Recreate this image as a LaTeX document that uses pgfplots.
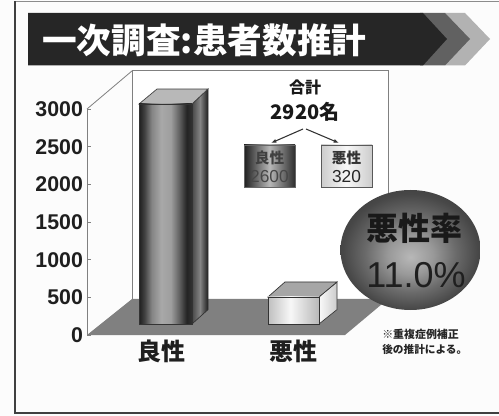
\documentclass[border=0pt]{standalone}
\usepackage{pgfplots}
\pgfplotsset{compat=1.18}
\usepackage{fontspec}
\setmainfont{Liberation Sans}
\newfontfamily\jp{Noto Sans CJK JP}
\usetikzlibrary{arrows.meta}

% cylinder-like and box-like shadings of the bars (a shaded path spans 25bp to 75bp)
\pgfdeclarehorizontalshading{barfront}{100bp}{
  color(0bp)=(black!88); color(25bp)=(black!88); color(30bp)=(black!75); color(37bp)=(black!48);
  color(46bp)=(black!34); color(55bp)=(black!38); color(63bp)=(black!62); color(70bp)=(black!86); color(75bp)=(black!80); color(100bp)=(black!80)}
\pgfdeclarehorizontalshading{barside}{100bp}{
  color(0bp)=(black!72); color(25bp)=(black!72); color(50bp)=(black!48); color(75bp)=(black!88); color(100bp)=(black!88)}
\pgfdeclarehorizontalshading{boxfront}{100bp}{
  color(0bp)=(black!25); color(25bp)=(black!25); color(47bp)=(black!3); color(75bp)=(black!28); color(100bp)=(black!28)}
\pgfdeclarehorizontalshading{boxside}{100bp}{
  color(0bp)=(black!2); color(25bp)=(black!2); color(75bp)=(black!20); color(100bp)=(black!20)}
\pgfdeclarehorizontalshading{keydark}{100bp}{
  color(0bp)=(black!88); color(25bp)=(black!88); color(50bp)=(black!28); color(75bp)=(black!82); color(100bp)=(black!82)}
\pgfdeclarehorizontalshading{keylight}{100bp}{
  color(0bp)=(black!20); color(25bp)=(black!20); color(50bp)=(black!3); color(75bp)=(black!20); color(100bp)=(black!20)}
\pgfdeclareradialshading{ball}{\pgfpoint{0bp}{-3bp}}{
  color(0bp)=(black!28); color(8bp)=(black!40); color(16bp)=(black!58); color(24bp)=(black!72); color(32bp)=(black!78)}

\begin{document}
\begin{tikzpicture}[x=0.75pt,y=-0.75pt]
\useasboundingbox (0,0) rectangle (499,416);
\fill[black!1] (0,0) rectangle (499,416);

% page frame, open on the right
\draw[black!45,line width=0.9pt] (15,1.5) -- (499,1.5);
\draw[black!75,line width=1.1pt] (15,1.5) -- (15,413) -- (499,413);

% title banner with its chevrons
\fill[black!30] (445,13) -- (465,13) -- (490,39) -- (465,65.5) -- (445,65.5) -- cycle;
\fill[black!62] (420,13) -- (445,13) -- (470,39) -- (445,65.5) -- (420,65.5) -- cycle;
\fill[black!85] (28,13) -- (423,13) -- (447,39) -- (423,65.5) -- (28,65.5) -- cycle;
\node[text=white,anchor=west,inner sep=0pt] at (42,40)
  {\jp\bfseries\fontsize{26}{30}\selectfont 一次調査:患者数推計};

% back wall and side wall
\draw[black!50,line width=0.6pt,fill=white] (132.5,299) -- (132.5,70.5) -- (388,70.5) -- (388,299);
\draw[black!50,line width=0.6pt] (87,109) -- (132.5,70.5);

% floor
\fill[black!50] (87,335) -- (132,299) -- (388,299) -- (345,335) -- cycle;

% the two bars, on a scale running from the front of the floor
\begin{axis}[
  at={(0pt,-312pt)},anchor=south west,
  width=374.25pt,height=312pt,scale only axis,hide axis,
  xmin=0,xmax=499,ymin=-1087.2,ymax=3829,clip=false]
\addplot[draw=black!80,line width=0.5pt,shading=barside]
  coordinates {(192,0) (208,170) (208,2777) (192,2600)} --cycle;
\addplot[draw=black!75,line width=0.5pt,fill=black!28]
  coordinates {(139,2600) (192,2600) (208,2777) (157,2777)} --cycle;
\addplot[ybar,bar width=53,bar shift=0pt,draw=black!80,line width=0.5pt,shading=barfront]
  coordinates {(165.5,2600)};
\addplot[draw=black!80,line width=0.5pt,shading=boxside]
  coordinates {(319,0) (337,170) (337,497) (319,320)} --cycle;
\addplot[draw=black!80,line width=0.5pt,fill=black!35]
  coordinates {(268,320) (319,320) (337,497) (285,497)} --cycle;
\addplot[ybar,bar width=51,bar shift=0pt,draw=black!80,line width=0.5pt,shading=boxfront]
  coordinates {(293.5,320)};
\end{axis}

% value axis and category names
\begin{axis}[
  at={(65.25pt,-251.25pt)},anchor=south west,
  width=225.75pt,height=169.5pt,scale only axis,
  xmin=87,xmax=388,ymin=0,ymax=3000,
  axis y line*=left,axis x line*=bottom,
  x axis line style={draw=none},
  y axis line style={draw=black!50,line width=0.6pt,-},
  ytick={0,500,1000,1500,2000,2500,3000},
  yticklabels={0\hspace{3.5pt},500,1000,1500,2000,2500,3000},
  yticklabel style={font=\bfseries\fontsize{16}{18}\selectfont,text=black!88,xshift=0.5pt},
  ytick style={draw=black!50,line width=0.5pt},
  tick align=inside,major tick length=3pt,
  xtick={161,293},
  xticklabels={良性,悪性},
  xticklabel style={font=\jp\bfseries\fontsize{18}{20}\selectfont,text=black!88},
  major x tick style={draw=none},
  clip=false]
\end{axis}

% total and its breakdown
\node[align=center,inner sep=0pt,text=black!90] at (305,87)
  {\jp\bfseries\fontsize{12}{14}\selectfont 合計};
\node[inner sep=0pt,text=black!90] at (305,112)
  {\jp\bfseries\fontsize{15}{16}\selectfont 2920名};
\draw[-{Latex[length=4pt,width=3pt]},black!80,line width=0.8pt] (303,129) -- (271,143);
\draw[-{Latex[length=4pt,width=3pt]},black!80,line width=0.8pt] (306,129) -- (339,143);

\shade[shading=keydark] (244,145) rectangle (295,187);
\draw[black!60,line width=0.5pt] (244,145) rectangle (295,187);
\shade[shading=keylight] (321,145) rectangle (372,187);
\draw[black!65,line width=0.7pt] (321,145) rectangle (372,187);
\node[inner sep=0pt,text=black!75] at (269.5,158) {\jp\bfseries\fontsize{11}{12}\selectfont 良性};
\node[inner sep=0pt,text=black!72] at (269.5,176.5) {\fontsize{13}{14}\selectfont 2600};
\node[inner sep=0pt,text=black!80] at (346.5,158) {\jp\bfseries\fontsize{11}{12}\selectfont 悪性};
\node[inner sep=0pt,text=black!85] at (346.5,176.5) {\fontsize{13}{14}\selectfont 320};

% malignancy rate badge
\shade[shading=ball] (410.5,250) ellipse [x radius=70,y radius=60];
\node[inner sep=0pt,text=black!90] at (414,228) {\jp\bfseries\fontsize{24}{27}\selectfont 悪性率};
\node[inner sep=0pt,text=black!88] at (416,275) {\fontsize{27}{30}\selectfont 11.0\%};

% footnote
\node[inner sep=0pt,text=black!85,anchor=west] at (382,334)
  {\jp\bfseries\fontsize{8.2}{10}\selectfont ※重複症例補正};
\node[inner sep=0pt,text=black!85,anchor=west] at (382,349)
  {\jp\bfseries\fontsize{8}{10}\selectfont 後の推計による。};
\end{tikzpicture}
\end{document}
